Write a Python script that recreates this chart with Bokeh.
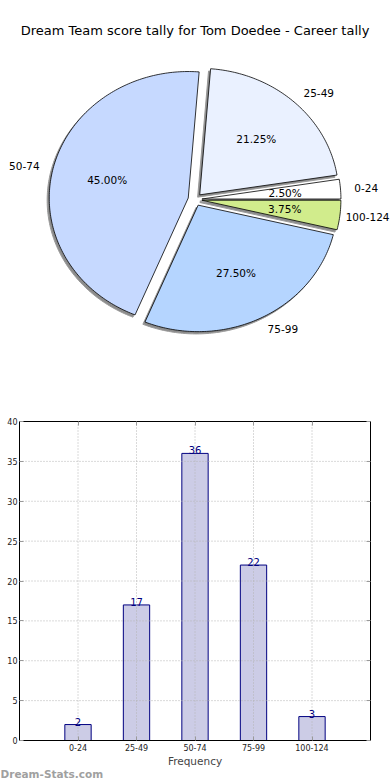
import numpy as np
from bokeh.plotting import figure
from bokeh.models import (Label, LabelSet, Range1d, FixedTicker, ColumnDataSource,
                          LinearAxis)
from bokeh.layouts import column
from bokeh.embed import file_html
from bokeh.resources import INLINE
from bokeh.core.properties import value

# ---------------- data ----------------
title_text = "Dream Team score tally for Tom Doedee - Career tally"
categories = ["0-24", "25-49", "50-74", "75-99", "100-124"]
counts = [2, 17, 36, 22, 3]
slice_colors = ["#ffffff", "#eaf1ff", "#c6d9ff", "#b5d5ff", "#d1ec8c"]
y_ticks = [0, 5, 10, 15, 20, 25, 30, 35, 40]
x_axis_label = "Frequency"
watermark = "Dream-Stats.com"

FONT_NAME = "DejaVu Sans"
FONT = value(FONT_NAME)
LABEL_PX = 10.5
explode = 0.05
label_dist = 1.1
pct_dist = 0.6

W = 390
H1, H2 = 401, 379
# pie geometry (pixels)
PX_X, PX_Y = 139.0, 126.5
CX, CY_TOP = 194.5, 199.0
# bar frame geometry (pixels inside the lower figure)
F_LEFT, F_RIGHT, F_TOP, F_BOTTOM = 19, 370, 20, 339

# approximate DejaVu Sans advance widths (em) to keep labels inside the canvas
_ADV = {"-": 0.361, "%": 0.950, ".": 0.318}
def text_width(s, size):
    return sum(_ADV.get(ch, 0.636) for ch in s) * size

# ---------------- pie ----------------
total = float(sum(counts))
fracs = np.array(counts, dtype=float) / total
ends = np.cumsum(fracs) * 2 * np.pi
starts = ends - fracs * 2 * np.pi
mids = (starts + ends) / 2

xs, ys, sxs, sys_ = [], [], [], []
lab = {"left": dict(x=[], y=[], text=[]), "right": dict(x=[], y=[], text=[])}
pct = dict(x=[], y=[], text=[])
for cat, s, e, m, f in zip(categories, starts, ends, mids, fracs):
    n = max(int(np.degrees(e - s)), 2) + 1
    t = np.linspace(s, e, n)
    ox, oy = explode * np.cos(m), explode * np.sin(m)
    px = np.concatenate([[ox], ox + np.cos(t), [ox]])
    py = np.concatenate([[oy], oy + np.sin(t), [oy]])
    xs.append(px.tolist()); ys.append(py.tolist())
    sxs.append((px - 0.015).tolist()); sys_.append((py - 0.018).tolist())
    side = "left" if np.cos(m) > 0 else "right"
    lx = ox + label_dist * np.cos(m)
    if side == "left":
        right_px = CX + lx * PX_X + text_width(cat, LABEL_PX)
        if right_px > W - 1:
            lx -= (right_px - (W - 1)) / PX_X
    lab[side]["x"].append(lx)
    lab[side]["y"].append(oy + label_dist * np.sin(m))
    lab[side]["text"].append(cat)
    pct["x"].append(ox + pct_dist * np.cos(m))
    pct["y"].append(oy + pct_dist * np.sin(m))
    pct["text"].append(f"{f * 100:.2f}%")

p1 = figure(width=W, height=H1,
            x_range=Range1d(-CX / PX_X, (W - CX) / PX_X),
            y_range=Range1d(-(H1 - CY_TOP) / PX_Y, CY_TOP / PX_Y),
            output_backend="svg", toolbar_location=None, min_border=0,
            min_border_left=0, min_border_right=0, min_border_top=0, min_border_bottom=0,
            x_axis_location=None, y_axis_location=None)
p1.grid.visible = False
p1.outline_line_color = None
p1.background_fill_color = "white"
p1.border_fill_color = "white"

p1.patches(sxs, sys_, fill_color="#8c8c8c", line_color="#9a9a9a", line_width=1)
p1.patches(xs, ys, fill_color=slice_colors, line_color="black", line_width=0.8)
for side, d in lab.items():
    p1.add_layout(LabelSet(x="x", y="y", text="text", source=ColumnDataSource(d),
                           text_align=side, text_baseline="middle",
                           text_font=FONT, text_font_size=f"{LABEL_PX}px",
                           text_color="black"))
p1.add_layout(LabelSet(x="x", y="y", text="text", source=ColumnDataSource(pct),
                       text_align="center", text_baseline="middle",
                       text_font=FONT, text_font_size=f"{LABEL_PX}px", text_color="black"))
p1.add_layout(Label(x=0, y=(CY_TOP - 30) / PX_Y, text=title_text, text_align="center",
                    text_baseline="middle", text_font=FONT_NAME, text_font_size="13px",
                    text_color="black"))

# ---------------- bars ----------------
xpos = list(range(len(categories)))
x_lo, x_hi = -1, len(categories)
y_lo, y_hi = y_ticks[0], y_ticks[-1]
sx = (F_RIGHT - F_LEFT) / (x_hi - x_lo)
sy = (F_BOTTOM - F_TOP) / (y_hi - y_lo)
p2 = figure(width=W, height=H2,
            x_range=Range1d(x_lo - F_LEFT / sx, x_hi + (W - F_RIGHT) / sx),
            y_range=Range1d(y_lo - (H2 - F_BOTTOM) / sy, y_hi + F_TOP / sy),
            output_backend="svg", toolbar_location=None, min_border=0,
            min_border_left=0, min_border_right=0, min_border_top=0, min_border_bottom=0)
p2.background_fill_color = "white"
p2.border_fill_color = "white"
p2.outline_line_color = None
p2.grid.visible = False

p2.vbar(x=xpos, top=counts, width=0.45, fill_color="#ccccE6", line_color="#000080",
        line_width=1)
# dotted grid on top of the bars, limited to the plotting box
p2.segment(x0=xpos, x1=xpos, y0=[y_lo] * len(xpos), y1=[y_hi] * len(xpos),
           line_color="#b4b4b4", line_dash="1 2", line_width=1)
inner = y_ticks[1:-1]
p2.segment(x0=[x_lo] * len(inner), x1=[x_hi] * len(inner), y0=inner, y1=inner,
           line_color="#b4b4b4", line_dash="1 2", line_width=1)
p2.text(x=xpos, y=counts, text=[str(c) for c in counts], text_align="center",
        text_baseline="bottom", y_offset=1, text_font=FONT, text_font_size="10px",
        text_color="#000080")

xa, ya = p2.xaxis[0], p2.yaxis[0]
xa.fixed_location = y_lo
ya.fixed_location = x_lo
xa.axis_label = x_axis_label
# frame edges on top and right, with inward ticks but no labels
xa_top = LinearAxis(fixed_location=y_hi)
ya_right = LinearAxis(fixed_location=x_hi)
p2.add_layout(xa_top, "above")
p2.add_layout(ya_right, "right")

for ax in (xa, xa_top):
    ax.bounds = (x_lo, x_hi)
    ax.ticker = FixedTicker(ticks=xpos)
for ax in (ya, ya_right):
    ax.bounds = (y_lo, y_hi)
    ax.ticker = FixedTicker(ticks=y_ticks)
xa.major_label_overrides = {i: c for i, c in zip(xpos, categories)}

for ax in (xa, ya, xa_top, ya_right):
    ax.major_label_text_font = FONT_NAME
    ax.major_label_text_font_size = "8px"
    ax.major_label_text_color = "#222222"
    ax.major_tick_in = 4
    ax.major_tick_out = 0
    ax.major_tick_line_color = "#999999"
    ax.minor_tick_line_color = None
    ax.axis_line_color = "black"
    ax.axis_line_width = 1
    ax.major_label_standoff = 3
for ax in (xa_top, ya_right):
    ax.major_label_text_color = None
ya.major_label_standoff = 2
xa.axis_label_text_font = FONT_NAME
xa.axis_label_text_font_size = "10.5px"
xa.axis_label_text_font_style = "normal"
xa.axis_label_standoff = 1

p2.add_layout(Label(x=0, y=7, x_units="screen", y_units="screen", text=watermark,
                    text_baseline="alphabetic",
                    text_font=FONT_NAME, text_font_size="10.5px", text_font_style="bold",
                    text_color="#a0a0a0"))

layout = column(p1, p2)
open("out.html", "w").write(file_html(layout, INLINE))
